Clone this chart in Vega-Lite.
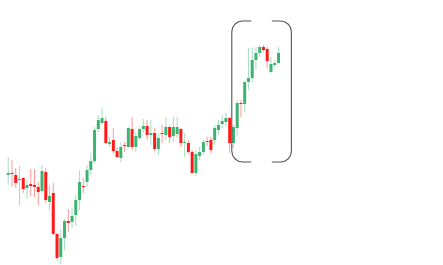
{
  "$schema": "https://vega.github.io/schema/vega-lite/v6.json",
  "width": 443,
  "height": 265,
  "autosize": {"type": "fit", "contains": "padding"},
  "padding": 0,
  "background": "white",
  "config": {"view": {"stroke": null}},
  "datasets": {
    "candles": [
      {"i":0,"o":90,"h":108,"l":80,"c":92},
      {"i":1,"o":92,"h":105,"l":78,"c":91},
      {"i":2,"o":90,"h":97,"l":77,"c":82},
      {"i":3,"o":85,"h":99,"l":60,"c":86},
      {"i":4,"o":87,"h":88,"l":72,"c":76},
      {"i":5,"o":77,"h":85,"l":66,"c":80},
      {"i":6,"o":81,"h":96,"l":69,"c":79},
      {"i":7,"o":80,"h":96,"l":68,"c":78},
      {"i":8,"o":78,"h":83,"l":60,"c":73},
      {"i":9,"o":74,"h":100,"l":72,"c":94},
      {"i":10,"o":93,"h":97,"l":62,"c":65},
      {"i":11,"o":63,"h":80,"l":55,"c":69},
      {"i":12,"o":72,"h":82,"l":30,"c":31},
      {"i":13,"o":31,"h":32,"l":5,"c":7},
      {"i":14,"o":8,"h":36,"l":1,"c":27},
      {"i":15,"o":27,"h":46,"l":15,"c":44},
      {"i":16,"o":44,"h":56,"l":33,"c":42},
      {"i":17,"o":43,"h":58,"l":37,"c":49},
      {"i":18,"o":50,"h":70,"l":39,"c":65},
      {"i":19,"o":65,"h":95,"l":55,"c":83},
      {"i":20,"o":79,"h":87,"l":72,"c":78},
      {"i":21,"o":83,"h":100,"l":78,"c":95},
      {"i":22,"o":95,"h":112,"l":90,"c":104},
      {"i":23,"o":104,"h":138,"l":102,"c":135},
      {"i":24,"o":136,"h":150,"l":133,"c":145},
      {"i":25,"o":142,"h":157,"l":141,"c":147},
      {"i":26,"o":144,"h":148,"l":121,"c":122},
      {"i":27,"o":121,"h":128,"l":118,"c":123},
      {"i":28,"o":125,"h":137,"l":112,"c":114},
      {"i":29,"o":114,"h":118,"l":107,"c":108},
      {"i":30,"o":107,"h":123,"l":103,"c":118},
      {"i":31,"o":120,"h":123,"l":113,"c":119},
      {"i":32,"o":118,"h":138,"l":117,"c":137},
      {"i":33,"o":136,"h":148,"l":115,"c":118},
      {"i":34,"o":118,"h":133,"l":113,"c":129},
      {"i":35,"o":127,"h":138,"l":125,"c":136},
      {"i":36,"o":136,"h":146,"l":132,"c":139},
      {"i":37,"o":139,"h":145,"l":125,"c":130},
      {"i":38,"o":130,"h":145,"l":120,"c":132},
      {"i":39,"o":132,"h":137,"l":114,"c":116},
      {"i":40,"o":116,"h":132,"l":110,"c":127},
      {"i":41,"o":132,"h":140,"l":122,"c":131},
      {"i":42,"o":130,"h":148,"l":125,"c":138},
      {"i":43,"o":138,"h":140,"l":122,"c":128},
      {"i":44,"o":129,"h":148,"l":123,"c":138},
      {"i":45,"o":131,"h":148,"l":127,"c":138},
      {"i":46,"o":136,"h":137,"l":118,"c":122},
      {"i":47,"o":122,"h":132,"l":108,"c":123},
      {"i":48,"o":122,"h":125,"l":111,"c":113},
      {"i":49,"o":113,"h":115,"l":91,"c":92},
      {"i":50,"o":92,"h":115,"l":89,"c":111},
      {"i":51,"o":109,"h":118,"l":105,"c":113},
      {"i":52,"o":113,"h":125,"l":110,"c":123},
      {"i":53,"o":124,"h":128,"l":119,"c":123},
      {"i":54,"o":125,"h":128,"l":112,"c":115},
      {"i":55,"o":125,"h":140,"l":120,"c":137},
      {"i":56,"o":135,"h":145,"l":130,"c":140},
      {"i":57,"o":141,"h":150,"l":137,"c":144},
      {"i":58,"o":143,"h":152,"l":139,"c":147},
      {"i":59,"o":147,"h":148,"l":112,"c":122},
      {"i":60,"o":122,"h":140,"l":117,"c":138},
      {"i":61,"o":137,"h":165,"l":130,"c":162},
      {"i":62,"o":162,"h":165,"l":148,"c":161},
      {"i":63,"o":161,"h":183,"l":153,"c":183},
      {"i":64,"o":183,"h":217,"l":175,"c":187},
      {"i":65,"o":187,"h":217,"l":183,"c":205},
      {"i":66,"o":205,"h":218,"l":195,"c":212},
      {"i":67,"o":212,"h":220,"l":208,"c":218},
      {"i":68,"o":218,"h":220,"l":213,"c":215},
      {"i":69,"o":216,"h":218,"l":197,"c":204},
      {"i":70,"o":193,"h":208,"l":192,"c":201},
      {"i":71,"o":200,"h":205,"l":198,"c":202},
      {"i":72,"o":202,"h":218,"l":202,"c":212}
    ],
    "bracket": [
      {"side":"L","k":0,"i":64.77,"p":244},
      {"side":"L","k":1,"i":62.42,"p":244},
      {"side":"L","k":2,"i":61.33,"p":243.2},
      {"side":"L","k":3,"i":60.39,"p":240.8},
      {"side":"L","k":4,"i":59.77,"p":237.2},
      {"side":"L","k":5,"i":59.56,"p":233},
      {"side":"L","k":6,"i":59.56,"p":114},
      {"side":"L","k":7,"i":59.77,"p":109.8},
      {"side":"L","k":8,"i":60.39,"p":106.2},
      {"side":"L","k":9,"i":61.33,"p":103.8},
      {"side":"L","k":10,"i":62.42,"p":103},
      {"side":"L","k":11,"i":64.77,"p":103},
      {"side":"R","k":0,"i":70.23,"p":244},
      {"side":"R","k":1,"i":72.58,"p":244},
      {"side":"R","k":2,"i":73.67,"p":243.2},
      {"side":"R","k":3,"i":74.61,"p":240.8},
      {"side":"R","k":4,"i":75.23,"p":237.2},
      {"side":"R","k":5,"i":75.44,"p":233},
      {"side":"R","k":6,"i":75.44,"p":114},
      {"side":"R","k":7,"i":75.23,"p":109.8},
      {"side":"R","k":8,"i":74.61,"p":106.2},
      {"side":"R","k":9,"i":73.67,"p":103.8},
      {"side":"R","k":10,"i":72.58,"p":103},
      {"side":"R","k":11,"i":70.23,"p":103}
    ]
  },
  "layer": [
    {
      "data": {"name": "candles"},
      "mark": {"type": "rule", "strokeWidth": 1, "opacity": 0.45},
      "encoding": {
        "x": {"field": "i", "type": "quantitative", "scale": {"domain": [-0.86, 114.5], "nice": false, "zero": false}, "axis": null},
        "y": {"field": "l", "type": "quantitative", "scale": {"domain": [0, 265], "nice": false, "zero": false}, "axis": null},
        "y2": {"field": "h"},
        "color": {"condition": {"test": "datum.c >= datum.o", "value": "#3cb371"}, "value": "#ff1a1a"}
      }
    },
    {
      "data": {"name": "candles"},
      "mark": {"type": "bar", "width": 3},
      "encoding": {
        "x": {"field": "i", "type": "quantitative"},
        "y": {"field": "o", "type": "quantitative"},
        "y2": {"field": "c"},
        "color": {"condition": {"test": "datum.c >= datum.o", "value": "#3cb371"}, "value": "#ff1a1a"}
      }
    },
    {
      "data": {"name": "bracket"},
      "mark": {"type": "line", "stroke": "#555555", "strokeWidth": 1.1},
      "encoding": {
        "x": {"field": "i", "type": "quantitative"},
        "y": {"field": "p", "type": "quantitative"},
        "detail": {"field": "side"},
        "order": {"field": "k", "type": "quantitative"}
      }
    }
  ]
}
